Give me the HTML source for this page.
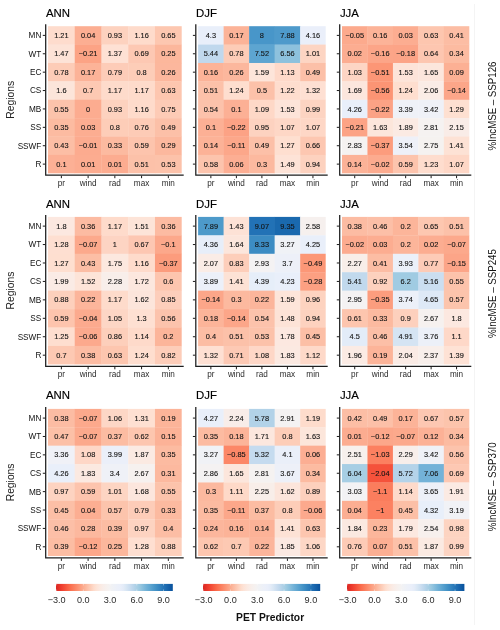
<!DOCTYPE html>
<html lang="en">
<head>
<meta charset="utf-8">
<title>%IncMSE heatmaps</title>
<style>
html,body{margin:0;padding:0;background:#fff;}
body{width:500px;height:630px;overflow:hidden;}
svg{display:block;}
text{font-family:"Liberation Sans", Arial, Helvetica, sans-serif;}
.v{font-size:7.4px;fill:#141414;stroke:#141414;stroke-width:0.12px;text-anchor:middle;}
.xt{font-size:8.2px;fill:#2c2c2c;text-anchor:middle;}
.yt{font-size:8.2px;fill:#111;text-anchor:end;}
.ti{font-size:11.4px;fill:#000;stroke:#000;stroke-width:0.15px;}
.yl{font-size:10.3px;fill:#222;text-anchor:middle;}
.rl{font-size:10.9px;fill:#111;text-anchor:middle;}
.lg{font-size:9.1px;fill:#2a2a2a;text-anchor:middle;}
.xl{font-size:10.3px;font-weight:bold;fill:#111;text-anchor:middle;}
.ax{stroke:#1e1e1e;stroke-width:1.25;fill:none;stroke-linecap:butt;stroke-linejoin:miter;}
.tk{stroke:#1a1a1a;stroke-width:1;fill:none;}
</style>
</head>
<body>
<svg width="500" height="630" viewBox="0 0 500 630">
<rect x="0" y="0" width="500" height="630" fill="#ffffff"/>
<line x1="474.5" y1="4" x2="474.5" y2="625" stroke="#f4f4f4" stroke-width="1"/>
<defs><linearGradient id="cb" x1="0" y1="0" x2="1" y2="0">
<stop offset="0.0000" stop-color="#D92623"/>
<stop offset="0.0250" stop-color="#E63228"/>
<stop offset="0.0500" stop-color="#F03F2F"/>
<stop offset="0.0750" stop-color="#F44F39"/>
<stop offset="0.1000" stop-color="#F86043"/>
<stop offset="0.1250" stop-color="#FB6F4F"/>
<stop offset="0.1500" stop-color="#FB7D5D"/>
<stop offset="0.1750" stop-color="#FC8B6B"/>
<stop offset="0.2000" stop-color="#FC997A"/>
<stop offset="0.2250" stop-color="#FCA78A"/>
<stop offset="0.2500" stop-color="#FCB59A"/>
<stop offset="0.2750" stop-color="#FCC2AB"/>
<stop offset="0.3000" stop-color="#FDCFBB"/>
<stop offset="0.3250" stop-color="#FEDCCC"/>
<stop offset="0.3500" stop-color="#FDE4D8"/>
<stop offset="0.3750" stop-color="#FBE9E1"/>
<stop offset="0.4000" stop-color="#F9EDE8"/>
<stop offset="0.4250" stop-color="#F7F0ED"/>
<stop offset="0.4500" stop-color="#F5F2F1"/>
<stop offset="0.4750" stop-color="#F1F2F5"/>
<stop offset="0.5000" stop-color="#EEF1F7"/>
<stop offset="0.5250" stop-color="#ECF0F9"/>
<stop offset="0.5500" stop-color="#EAEFFA"/>
<stop offset="0.5750" stop-color="#E4ECF8"/>
<stop offset="0.6000" stop-color="#D9E7F4"/>
<stop offset="0.6250" stop-color="#CDDFF1"/>
<stop offset="0.6500" stop-color="#C0D8ED"/>
<stop offset="0.6750" stop-color="#B2D2E8"/>
<stop offset="0.7000" stop-color="#A4CDE3"/>
<stop offset="0.7250" stop-color="#94C5DF"/>
<stop offset="0.7500" stop-color="#82BBDB"/>
<stop offset="0.7750" stop-color="#71B1D7"/>
<stop offset="0.8000" stop-color="#62A8D2"/>
<stop offset="0.8250" stop-color="#539ECD"/>
<stop offset="0.8500" stop-color="#4594C7"/>
<stop offset="0.8750" stop-color="#3989C2"/>
<stop offset="0.9000" stop-color="#2E7EBC"/>
<stop offset="0.9250" stop-color="#2373B6"/>
<stop offset="0.9500" stop-color="#1A67AE"/>
<stop offset="0.9750" stop-color="#115CA5"/>
<stop offset="1.0000" stop-color="#08519C"/>
</linearGradient></defs>
<g>
<text class="ti" x="45.9" y="16.7">ANN</text>
<rect x="48.00" y="26.20" width="27.04" height="18.69" fill="#FEDCCD"/>
<rect x="74.74" y="26.20" width="27.04" height="18.69" fill="#FCAE92"/>
<rect x="101.48" y="26.20" width="27.04" height="18.69" fill="#FDD2BF"/>
<rect x="128.22" y="26.20" width="27.04" height="18.69" fill="#FEDBCB"/>
<rect x="154.96" y="26.20" width="26.74" height="18.69" fill="#FDC7B0"/>
<rect x="48.00" y="44.59" width="27.04" height="18.69" fill="#FDE3D7"/>
<rect x="74.74" y="44.59" width="27.04" height="18.69" fill="#FCA385"/>
<rect x="101.48" y="44.59" width="27.04" height="18.69" fill="#FEE1D4"/>
<rect x="128.22" y="44.59" width="27.04" height="18.69" fill="#FDC8B3"/>
<rect x="154.96" y="44.59" width="26.74" height="18.69" fill="#FCB79C"/>
<rect x="48.00" y="62.98" width="27.04" height="18.69" fill="#FDCCB7"/>
<rect x="74.74" y="62.98" width="27.04" height="18.69" fill="#FCB398"/>
<rect x="101.48" y="62.98" width="27.04" height="18.69" fill="#FDCCB8"/>
<rect x="128.22" y="62.98" width="27.04" height="18.69" fill="#FDCDB8"/>
<rect x="154.96" y="62.98" width="26.74" height="18.69" fill="#FCB79D"/>
<rect x="48.00" y="81.36" width="27.04" height="18.69" fill="#FCE5DA"/>
<rect x="74.74" y="81.36" width="27.04" height="18.69" fill="#FDC9B3"/>
<rect x="101.48" y="81.36" width="27.04" height="18.69" fill="#FEDBCB"/>
<rect x="128.22" y="81.36" width="27.04" height="18.69" fill="#FEDBCB"/>
<rect x="154.96" y="81.36" width="26.74" height="18.69" fill="#FDC6AF"/>
<rect x="48.00" y="99.75" width="27.04" height="18.69" fill="#FCC3AB"/>
<rect x="74.74" y="99.75" width="27.04" height="18.69" fill="#FCAC90"/>
<rect x="101.48" y="99.75" width="27.04" height="18.69" fill="#FDD2BF"/>
<rect x="128.22" y="99.75" width="27.04" height="18.69" fill="#FEDBCB"/>
<rect x="154.96" y="99.75" width="26.74" height="18.69" fill="#FDCBB6"/>
<rect x="48.00" y="118.14" width="27.04" height="18.69" fill="#FCBBA1"/>
<rect x="74.74" y="118.14" width="27.04" height="18.69" fill="#FCAD91"/>
<rect x="101.48" y="118.14" width="27.04" height="18.69" fill="#FDCDB8"/>
<rect x="128.22" y="118.14" width="27.04" height="18.69" fill="#FDCBB6"/>
<rect x="154.96" y="118.14" width="26.74" height="18.69" fill="#FCC0A8"/>
<rect x="48.00" y="136.53" width="27.04" height="18.69" fill="#FCBEA5"/>
<rect x="74.74" y="136.53" width="27.04" height="18.69" fill="#FCAB8F"/>
<rect x="101.48" y="136.53" width="27.04" height="18.69" fill="#FCBAA0"/>
<rect x="128.22" y="136.53" width="27.04" height="18.69" fill="#FDC4AD"/>
<rect x="154.96" y="136.53" width="26.74" height="18.69" fill="#FCB89E"/>
<rect x="48.00" y="154.91" width="27.04" height="18.39" fill="#FCB095"/>
<rect x="74.74" y="154.91" width="27.04" height="18.39" fill="#FCAC90"/>
<rect x="101.48" y="154.91" width="27.04" height="18.39" fill="#FCAC90"/>
<rect x="128.22" y="154.91" width="27.04" height="18.39" fill="#FCC1A9"/>
<rect x="154.96" y="154.91" width="26.74" height="18.39" fill="#FCC2AA"/>
<text class="v" x="61.37" y="37.99">1.21</text>
<text class="v" x="88.11" y="37.99">0.04</text>
<text class="v" x="114.85" y="37.99">0.93</text>
<text class="v" x="141.59" y="37.99">1.16</text>
<text class="v" x="168.33" y="37.99">0.65</text>
<text class="v" x="61.37" y="56.38">1.47</text>
<text class="v" x="88.11" y="56.38">−0.21</text>
<text class="v" x="114.85" y="56.38">1.37</text>
<text class="v" x="141.59" y="56.38">0.69</text>
<text class="v" x="168.33" y="56.38">0.25</text>
<text class="v" x="61.37" y="74.77">0.78</text>
<text class="v" x="88.11" y="74.77">0.17</text>
<text class="v" x="114.85" y="74.77">0.79</text>
<text class="v" x="141.59" y="74.77">0.8</text>
<text class="v" x="168.33" y="74.77">0.26</text>
<text class="v" x="61.37" y="93.16">1.6</text>
<text class="v" x="88.11" y="93.16">0.7</text>
<text class="v" x="114.85" y="93.16">1.17</text>
<text class="v" x="141.59" y="93.16">1.17</text>
<text class="v" x="168.33" y="93.16">0.63</text>
<text class="v" x="61.37" y="111.54">0.55</text>
<text class="v" x="88.11" y="111.54">0</text>
<text class="v" x="114.85" y="111.54">0.93</text>
<text class="v" x="141.59" y="111.54">1.16</text>
<text class="v" x="168.33" y="111.54">0.75</text>
<text class="v" x="61.37" y="129.93">0.35</text>
<text class="v" x="88.11" y="129.93">0.03</text>
<text class="v" x="114.85" y="129.93">0.8</text>
<text class="v" x="141.59" y="129.93">0.76</text>
<text class="v" x="168.33" y="129.93">0.49</text>
<text class="v" x="61.37" y="148.32">0.43</text>
<text class="v" x="88.11" y="148.32">−0.01</text>
<text class="v" x="114.85" y="148.32">0.33</text>
<text class="v" x="141.59" y="148.32">0.59</text>
<text class="v" x="168.33" y="148.32">0.29</text>
<text class="v" x="61.37" y="166.71">0.1</text>
<text class="v" x="88.11" y="166.71">0.01</text>
<text class="v" x="114.85" y="166.71">0.01</text>
<text class="v" x="141.59" y="166.71">0.51</text>
<text class="v" x="168.33" y="166.71">0.53</text>
<path class="ax" d="M45.70 24.20 V175.20 H183.70"/>
<line class="tk" x1="42.80" y1="35.39" x2="45.20" y2="35.39"/>
<text class="yt" x="41.30" y="38.29">MN</text>
<line class="tk" x1="42.80" y1="53.78" x2="45.20" y2="53.78"/>
<text class="yt" x="41.30" y="56.68">WT</text>
<line class="tk" x1="42.80" y1="72.17" x2="45.20" y2="72.17"/>
<text class="yt" x="41.30" y="75.07">EC</text>
<line class="tk" x1="42.80" y1="90.56" x2="45.20" y2="90.56"/>
<text class="yt" x="41.30" y="93.46">CS</text>
<line class="tk" x1="42.80" y1="108.94" x2="45.20" y2="108.94"/>
<text class="yt" x="41.30" y="111.84">MB</text>
<line class="tk" x1="42.80" y1="127.33" x2="45.20" y2="127.33"/>
<text class="yt" x="41.30" y="130.23">SS</text>
<line class="tk" x1="42.80" y1="145.72" x2="45.20" y2="145.72"/>
<text class="yt" x="41.30" y="148.62">SSWF</text>
<line class="tk" x1="42.80" y1="164.11" x2="45.20" y2="164.11"/>
<text class="yt" x="41.30" y="167.01">R</text>
<line class="tk" x1="61.37" y1="175.70" x2="61.37" y2="178.20"/>
<text class="xt" x="61.37" y="185.90">pr</text>
<line class="tk" x1="88.11" y1="175.70" x2="88.11" y2="178.20"/>
<text class="xt" x="88.11" y="185.90">wind</text>
<line class="tk" x1="114.85" y1="175.70" x2="114.85" y2="178.20"/>
<text class="xt" x="114.85" y="185.90">rad</text>
<line class="tk" x1="141.59" y1="175.70" x2="141.59" y2="178.20"/>
<text class="xt" x="141.59" y="185.90">max</text>
<line class="tk" x1="168.33" y1="175.70" x2="168.33" y2="178.20"/>
<text class="xt" x="168.33" y="185.90">min</text>
</g>
<g>
<text class="ti" x="196.0" y="16.7">DJF</text>
<rect x="198.10" y="26.20" width="25.82" height="18.69" fill="#E9EFFA"/>
<rect x="223.62" y="26.20" width="25.82" height="18.69" fill="#FCB398"/>
<rect x="249.14" y="26.20" width="25.82" height="18.69" fill="#4896C9"/>
<rect x="274.66" y="26.20" width="25.82" height="18.69" fill="#4E9ACB"/>
<rect x="300.18" y="26.20" width="25.52" height="18.69" fill="#EAEFFA"/>
<rect x="198.10" y="44.59" width="25.82" height="18.69" fill="#C0D8ED"/>
<rect x="223.62" y="44.59" width="25.82" height="18.69" fill="#FDCCB7"/>
<rect x="249.14" y="44.59" width="25.82" height="18.69" fill="#5DA5D1"/>
<rect x="274.66" y="44.59" width="25.82" height="18.69" fill="#8DC1DD"/>
<rect x="300.18" y="44.59" width="25.52" height="18.69" fill="#FDD5C3"/>
<rect x="198.10" y="62.98" width="25.82" height="18.69" fill="#FCB398"/>
<rect x="223.62" y="62.98" width="25.82" height="18.69" fill="#FCB79D"/>
<rect x="249.14" y="62.98" width="25.82" height="18.69" fill="#FDE5DA"/>
<rect x="274.66" y="62.98" width="25.82" height="18.69" fill="#FED9C9"/>
<rect x="300.18" y="62.98" width="25.52" height="18.69" fill="#FCC0A8"/>
<rect x="198.10" y="81.36" width="25.82" height="18.69" fill="#FCC1A9"/>
<rect x="223.62" y="81.36" width="25.82" height="18.69" fill="#FEDECF"/>
<rect x="249.14" y="81.36" width="25.82" height="18.69" fill="#FCC1A9"/>
<rect x="274.66" y="81.36" width="25.82" height="18.69" fill="#FEDDCE"/>
<rect x="300.18" y="81.36" width="25.52" height="18.69" fill="#FEE0D3"/>
<rect x="198.10" y="99.75" width="25.82" height="18.69" fill="#FCC2AB"/>
<rect x="223.62" y="99.75" width="25.82" height="18.69" fill="#FCB095"/>
<rect x="249.14" y="99.75" width="25.82" height="18.69" fill="#FED8C7"/>
<rect x="274.66" y="99.75" width="25.82" height="18.69" fill="#FDE4D9"/>
<rect x="300.18" y="99.75" width="25.52" height="18.69" fill="#FDD4C2"/>
<rect x="198.10" y="118.14" width="25.82" height="18.69" fill="#FCB095"/>
<rect x="223.62" y="118.14" width="25.82" height="18.69" fill="#FCA285"/>
<rect x="249.14" y="118.14" width="25.82" height="18.69" fill="#FDD2C0"/>
<rect x="274.66" y="118.14" width="25.82" height="18.69" fill="#FED7C6"/>
<rect x="300.18" y="118.14" width="25.52" height="18.69" fill="#FED7C6"/>
<rect x="198.10" y="136.53" width="25.82" height="18.69" fill="#FCB297"/>
<rect x="223.62" y="136.53" width="25.82" height="18.69" fill="#FCA78A"/>
<rect x="249.14" y="136.53" width="25.82" height="18.69" fill="#FCC0A8"/>
<rect x="274.66" y="136.53" width="25.82" height="18.69" fill="#FEDFD0"/>
<rect x="300.18" y="136.53" width="25.52" height="18.69" fill="#FDC7B1"/>
<rect x="198.10" y="154.91" width="25.82" height="18.39" fill="#FCC4AD"/>
<rect x="223.62" y="154.91" width="25.82" height="18.39" fill="#FCAE93"/>
<rect x="249.14" y="154.91" width="25.82" height="18.39" fill="#FCB99F"/>
<rect x="274.66" y="154.91" width="25.82" height="18.39" fill="#FDE3D7"/>
<rect x="300.18" y="154.91" width="25.52" height="18.39" fill="#FDD2BF"/>
<text class="v" x="210.86" y="37.99">4.3</text>
<text class="v" x="236.38" y="37.99">0.17</text>
<text class="v" x="261.90" y="37.99">8</text>
<text class="v" x="287.42" y="37.99">7.88</text>
<text class="v" x="312.94" y="37.99">4.16</text>
<text class="v" x="210.86" y="56.38">5.44</text>
<text class="v" x="236.38" y="56.38">0.78</text>
<text class="v" x="261.90" y="56.38">7.52</text>
<text class="v" x="287.42" y="56.38">6.56</text>
<text class="v" x="312.94" y="56.38">1.01</text>
<text class="v" x="210.86" y="74.77">0.16</text>
<text class="v" x="236.38" y="74.77">0.26</text>
<text class="v" x="261.90" y="74.77">1.59</text>
<text class="v" x="287.42" y="74.77">1.13</text>
<text class="v" x="312.94" y="74.77">0.49</text>
<text class="v" x="210.86" y="93.16">0.51</text>
<text class="v" x="236.38" y="93.16">1.24</text>
<text class="v" x="261.90" y="93.16">0.5</text>
<text class="v" x="287.42" y="93.16">1.22</text>
<text class="v" x="312.94" y="93.16">1.32</text>
<text class="v" x="210.86" y="111.54">0.54</text>
<text class="v" x="236.38" y="111.54">0.1</text>
<text class="v" x="261.90" y="111.54">1.09</text>
<text class="v" x="287.42" y="111.54">1.53</text>
<text class="v" x="312.94" y="111.54">0.99</text>
<text class="v" x="210.86" y="129.93">0.1</text>
<text class="v" x="236.38" y="129.93">−0.22</text>
<text class="v" x="261.90" y="129.93">0.95</text>
<text class="v" x="287.42" y="129.93">1.07</text>
<text class="v" x="312.94" y="129.93">1.07</text>
<text class="v" x="210.86" y="148.32">0.14</text>
<text class="v" x="236.38" y="148.32">−0.11</text>
<text class="v" x="261.90" y="148.32">0.49</text>
<text class="v" x="287.42" y="148.32">1.27</text>
<text class="v" x="312.94" y="148.32">0.66</text>
<text class="v" x="210.86" y="166.71">0.58</text>
<text class="v" x="236.38" y="166.71">0.06</text>
<text class="v" x="261.90" y="166.71">0.3</text>
<text class="v" x="287.42" y="166.71">1.49</text>
<text class="v" x="312.94" y="166.71">0.94</text>
<path class="ax" d="M195.80 24.20 V175.20 H327.70"/>
<line class="tk" x1="192.90" y1="35.39" x2="195.30" y2="35.39"/>
<line class="tk" x1="192.90" y1="53.78" x2="195.30" y2="53.78"/>
<line class="tk" x1="192.90" y1="72.17" x2="195.30" y2="72.17"/>
<line class="tk" x1="192.90" y1="90.56" x2="195.30" y2="90.56"/>
<line class="tk" x1="192.90" y1="108.94" x2="195.30" y2="108.94"/>
<line class="tk" x1="192.90" y1="127.33" x2="195.30" y2="127.33"/>
<line class="tk" x1="192.90" y1="145.72" x2="195.30" y2="145.72"/>
<line class="tk" x1="192.90" y1="164.11" x2="195.30" y2="164.11"/>
<line class="tk" x1="210.86" y1="175.70" x2="210.86" y2="178.20"/>
<text class="xt" x="210.86" y="185.90">pr</text>
<line class="tk" x1="236.38" y1="175.70" x2="236.38" y2="178.20"/>
<text class="xt" x="236.38" y="185.90">wind</text>
<line class="tk" x1="261.90" y1="175.70" x2="261.90" y2="178.20"/>
<text class="xt" x="261.90" y="185.90">rad</text>
<line class="tk" x1="287.42" y1="175.70" x2="287.42" y2="178.20"/>
<text class="xt" x="287.42" y="185.90">max</text>
<line class="tk" x1="312.94" y1="175.70" x2="312.94" y2="178.20"/>
<text class="xt" x="312.94" y="185.90">min</text>
</g>
<g>
<text class="ti" x="339.9" y="16.7">JJA</text>
<rect x="342.00" y="26.20" width="25.76" height="18.69" fill="#FCAA8D"/>
<rect x="367.46" y="26.20" width="25.76" height="18.69" fill="#FCB398"/>
<rect x="392.92" y="26.20" width="25.76" height="18.69" fill="#FCAD91"/>
<rect x="418.38" y="26.20" width="25.76" height="18.69" fill="#FDC6AF"/>
<rect x="443.84" y="26.20" width="25.46" height="18.69" fill="#FCBDA4"/>
<rect x="342.00" y="44.59" width="25.76" height="18.69" fill="#FCAD91"/>
<rect x="367.46" y="44.59" width="25.76" height="18.69" fill="#FCA588"/>
<rect x="392.92" y="44.59" width="25.76" height="18.69" fill="#FCA487"/>
<rect x="418.38" y="44.59" width="25.76" height="18.69" fill="#FDC6B0"/>
<rect x="443.84" y="44.59" width="25.46" height="18.69" fill="#FCBBA1"/>
<rect x="342.00" y="62.98" width="25.76" height="18.69" fill="#FDD5C4"/>
<rect x="367.46" y="62.98" width="25.76" height="18.69" fill="#FC9676"/>
<rect x="392.92" y="62.98" width="25.76" height="18.69" fill="#FDE4D9"/>
<rect x="418.38" y="62.98" width="25.76" height="18.69" fill="#FCE6DC"/>
<rect x="443.84" y="62.98" width="25.46" height="18.69" fill="#FCB094"/>
<rect x="342.00" y="81.36" width="25.76" height="18.69" fill="#FCE6DD"/>
<rect x="367.46" y="81.36" width="25.76" height="18.69" fill="#FC9474"/>
<rect x="392.92" y="81.36" width="25.76" height="18.69" fill="#FEDECF"/>
<rect x="418.38" y="81.36" width="25.76" height="18.69" fill="#FAECE6"/>
<rect x="443.84" y="81.36" width="25.46" height="18.69" fill="#FCA689"/>
<rect x="342.00" y="99.75" width="25.76" height="18.69" fill="#E9EFFA"/>
<rect x="367.46" y="99.75" width="25.76" height="18.69" fill="#FCA285"/>
<rect x="392.92" y="99.75" width="25.76" height="18.69" fill="#EFF1F7"/>
<rect x="418.38" y="99.75" width="25.76" height="18.69" fill="#EFF1F7"/>
<rect x="443.84" y="99.75" width="25.46" height="18.69" fill="#FEE0D1"/>
<rect x="342.00" y="118.14" width="25.76" height="18.69" fill="#FCA385"/>
<rect x="367.46" y="118.14" width="25.76" height="18.69" fill="#FCE6DB"/>
<rect x="392.92" y="118.14" width="25.76" height="18.69" fill="#FBEAE3"/>
<rect x="418.38" y="118.14" width="25.76" height="18.69" fill="#F5F2F1"/>
<rect x="443.84" y="118.14" width="25.46" height="18.69" fill="#F9ECE7"/>
<rect x="342.00" y="136.53" width="25.76" height="18.69" fill="#F5F2F1"/>
<rect x="367.46" y="136.53" width="25.76" height="18.69" fill="#FC9C7D"/>
<rect x="392.92" y="136.53" width="25.76" height="18.69" fill="#EEF0F8"/>
<rect x="418.38" y="136.53" width="25.76" height="18.69" fill="#F5F2F0"/>
<rect x="443.84" y="136.53" width="25.46" height="18.69" fill="#FDE2D5"/>
<rect x="342.00" y="154.91" width="25.76" height="18.39" fill="#FCB297"/>
<rect x="367.46" y="154.91" width="25.76" height="18.39" fill="#FCAB8F"/>
<rect x="392.92" y="154.91" width="25.76" height="18.39" fill="#FDC4AD"/>
<rect x="418.38" y="154.91" width="25.76" height="18.39" fill="#FEDDCE"/>
<rect x="443.84" y="154.91" width="25.46" height="18.39" fill="#FED7C6"/>
<text class="v" x="354.73" y="37.99">−0.05</text>
<text class="v" x="380.19" y="37.99">0.16</text>
<text class="v" x="405.65" y="37.99">0.03</text>
<text class="v" x="431.11" y="37.99">0.63</text>
<text class="v" x="456.57" y="37.99">0.41</text>
<text class="v" x="354.73" y="56.38">0.02</text>
<text class="v" x="380.19" y="56.38">−0.16</text>
<text class="v" x="405.65" y="56.38">−0.18</text>
<text class="v" x="431.11" y="56.38">0.64</text>
<text class="v" x="456.57" y="56.38">0.34</text>
<text class="v" x="354.73" y="74.77">1.03</text>
<text class="v" x="380.19" y="74.77">−0.51</text>
<text class="v" x="405.65" y="74.77">1.53</text>
<text class="v" x="431.11" y="74.77">1.65</text>
<text class="v" x="456.57" y="74.77">0.09</text>
<text class="v" x="354.73" y="93.16">1.69</text>
<text class="v" x="380.19" y="93.16">−0.56</text>
<text class="v" x="405.65" y="93.16">1.24</text>
<text class="v" x="431.11" y="93.16">2.06</text>
<text class="v" x="456.57" y="93.16">−0.14</text>
<text class="v" x="354.73" y="111.54">4.26</text>
<text class="v" x="380.19" y="111.54">−0.22</text>
<text class="v" x="405.65" y="111.54">3.39</text>
<text class="v" x="431.11" y="111.54">3.42</text>
<text class="v" x="456.57" y="111.54">1.29</text>
<text class="v" x="354.73" y="129.93">−0.21</text>
<text class="v" x="380.19" y="129.93">1.63</text>
<text class="v" x="405.65" y="129.93">1.89</text>
<text class="v" x="431.11" y="129.93">2.81</text>
<text class="v" x="456.57" y="129.93">2.15</text>
<text class="v" x="354.73" y="148.32">2.83</text>
<text class="v" x="380.19" y="148.32">−0.37</text>
<text class="v" x="405.65" y="148.32">3.54</text>
<text class="v" x="431.11" y="148.32">2.75</text>
<text class="v" x="456.57" y="148.32">1.41</text>
<text class="v" x="354.73" y="166.71">0.14</text>
<text class="v" x="380.19" y="166.71">−0.02</text>
<text class="v" x="405.65" y="166.71">0.59</text>
<text class="v" x="431.11" y="166.71">1.23</text>
<text class="v" x="456.57" y="166.71">1.07</text>
<path class="ax" d="M339.70 24.20 V175.20 H471.30"/>
<line class="tk" x1="336.80" y1="35.39" x2="339.20" y2="35.39"/>
<line class="tk" x1="336.80" y1="53.78" x2="339.20" y2="53.78"/>
<line class="tk" x1="336.80" y1="72.17" x2="339.20" y2="72.17"/>
<line class="tk" x1="336.80" y1="90.56" x2="339.20" y2="90.56"/>
<line class="tk" x1="336.80" y1="108.94" x2="339.20" y2="108.94"/>
<line class="tk" x1="336.80" y1="127.33" x2="339.20" y2="127.33"/>
<line class="tk" x1="336.80" y1="145.72" x2="339.20" y2="145.72"/>
<line class="tk" x1="336.80" y1="164.11" x2="339.20" y2="164.11"/>
<line class="tk" x1="354.73" y1="175.70" x2="354.73" y2="178.20"/>
<text class="xt" x="354.73" y="185.90">pr</text>
<line class="tk" x1="380.19" y1="175.70" x2="380.19" y2="178.20"/>
<text class="xt" x="380.19" y="185.90">wind</text>
<line class="tk" x1="405.65" y1="175.70" x2="405.65" y2="178.20"/>
<text class="xt" x="405.65" y="185.90">rad</text>
<line class="tk" x1="431.11" y1="175.70" x2="431.11" y2="178.20"/>
<text class="xt" x="431.11" y="185.90">max</text>
<line class="tk" x1="456.57" y1="175.70" x2="456.57" y2="178.20"/>
<text class="xt" x="456.57" y="185.90">min</text>
</g>
<text class="yl" transform="translate(13.7 99.8) rotate(-90)">Regions</text>
<text class="rl" transform="translate(495.5 106.0) rotate(-90) scale(0.89 1)">%IncMSE – SSP126</text>
<g>
<text class="ti" x="45.9" y="207.5">ANN</text>
<rect x="48.00" y="216.90" width="27.04" height="18.74" fill="#FCE8E0"/>
<rect x="74.74" y="216.90" width="27.04" height="18.74" fill="#FCBBA2"/>
<rect x="101.48" y="216.90" width="27.04" height="18.74" fill="#FEDBCB"/>
<rect x="128.22" y="216.90" width="27.04" height="18.74" fill="#FDE4D8"/>
<rect x="154.96" y="216.90" width="26.74" height="18.74" fill="#FCBBA2"/>
<rect x="48.00" y="235.34" width="27.04" height="18.74" fill="#FEDFD1"/>
<rect x="74.74" y="235.34" width="27.04" height="18.74" fill="#FCA98C"/>
<rect x="101.48" y="235.34" width="27.04" height="18.74" fill="#FDD4C3"/>
<rect x="128.22" y="235.34" width="27.04" height="18.74" fill="#FDC7B2"/>
<rect x="154.96" y="235.34" width="26.74" height="18.74" fill="#FCA88B"/>
<rect x="48.00" y="253.78" width="27.04" height="18.74" fill="#FEDFD0"/>
<rect x="74.74" y="253.78" width="27.04" height="18.74" fill="#FCBEA5"/>
<rect x="101.48" y="253.78" width="27.04" height="18.74" fill="#FCE8DF"/>
<rect x="128.22" y="253.78" width="27.04" height="18.74" fill="#FEDBCB"/>
<rect x="154.96" y="253.78" width="26.74" height="18.74" fill="#FC9C7D"/>
<rect x="48.00" y="272.21" width="27.04" height="18.74" fill="#FAEBE5"/>
<rect x="74.74" y="272.21" width="27.04" height="18.74" fill="#FDE4D8"/>
<rect x="101.48" y="272.21" width="27.04" height="18.74" fill="#F8EEEA"/>
<rect x="128.22" y="272.21" width="27.04" height="18.74" fill="#FCE7DE"/>
<rect x="154.96" y="272.21" width="26.74" height="18.74" fill="#FDC5AE"/>
<rect x="48.00" y="290.65" width="27.04" height="18.74" fill="#FDD0BC"/>
<rect x="74.74" y="290.65" width="27.04" height="18.74" fill="#FCB59B"/>
<rect x="101.48" y="290.65" width="27.04" height="18.74" fill="#FEDBCB"/>
<rect x="128.22" y="290.65" width="27.04" height="18.74" fill="#FCE5DB"/>
<rect x="154.96" y="290.65" width="26.74" height="18.74" fill="#FDCEBB"/>
<rect x="48.00" y="309.09" width="27.04" height="18.74" fill="#FDC4AD"/>
<rect x="74.74" y="309.09" width="27.04" height="18.74" fill="#FCAA8E"/>
<rect x="101.48" y="309.09" width="27.04" height="18.74" fill="#FDD6C5"/>
<rect x="128.22" y="309.09" width="27.04" height="18.74" fill="#FEE0D2"/>
<rect x="154.96" y="309.09" width="26.74" height="18.74" fill="#FCC3AC"/>
<rect x="48.00" y="327.52" width="27.04" height="18.74" fill="#FEDECF"/>
<rect x="74.74" y="327.52" width="27.04" height="18.74" fill="#FCA98D"/>
<rect x="101.48" y="327.52" width="27.04" height="18.74" fill="#FDCFBB"/>
<rect x="128.22" y="327.52" width="27.04" height="18.74" fill="#FEDACA"/>
<rect x="154.96" y="327.52" width="26.74" height="18.74" fill="#FCB59A"/>
<rect x="48.00" y="345.96" width="27.04" height="18.44" fill="#FDC9B3"/>
<rect x="74.74" y="345.96" width="27.04" height="18.44" fill="#FCBCA3"/>
<rect x="101.48" y="345.96" width="27.04" height="18.44" fill="#FDC6AF"/>
<rect x="128.22" y="345.96" width="27.04" height="18.44" fill="#FEDECF"/>
<rect x="154.96" y="345.96" width="26.74" height="18.44" fill="#FDCDB9"/>
<text class="v" x="61.37" y="228.72">1.8</text>
<text class="v" x="88.11" y="228.72">0.36</text>
<text class="v" x="114.85" y="228.72">1.17</text>
<text class="v" x="141.59" y="228.72">1.51</text>
<text class="v" x="168.33" y="228.72">0.36</text>
<text class="v" x="61.37" y="247.16">1.28</text>
<text class="v" x="88.11" y="247.16">−0.07</text>
<text class="v" x="114.85" y="247.16">1</text>
<text class="v" x="141.59" y="247.16">0.67</text>
<text class="v" x="168.33" y="247.16">−0.1</text>
<text class="v" x="61.37" y="265.59">1.27</text>
<text class="v" x="88.11" y="265.59">0.43</text>
<text class="v" x="114.85" y="265.59">1.75</text>
<text class="v" x="141.59" y="265.59">1.16</text>
<text class="v" x="168.33" y="265.59">−0.37</text>
<text class="v" x="61.37" y="284.03">1.99</text>
<text class="v" x="88.11" y="284.03">1.52</text>
<text class="v" x="114.85" y="284.03">2.28</text>
<text class="v" x="141.59" y="284.03">1.72</text>
<text class="v" x="168.33" y="284.03">0.6</text>
<text class="v" x="61.37" y="302.47">0.88</text>
<text class="v" x="88.11" y="302.47">0.22</text>
<text class="v" x="114.85" y="302.47">1.17</text>
<text class="v" x="141.59" y="302.47">1.62</text>
<text class="v" x="168.33" y="302.47">0.85</text>
<text class="v" x="61.37" y="320.91">0.59</text>
<text class="v" x="88.11" y="320.91">−0.04</text>
<text class="v" x="114.85" y="320.91">1.05</text>
<text class="v" x="141.59" y="320.91">1.3</text>
<text class="v" x="168.33" y="320.91">0.56</text>
<text class="v" x="61.37" y="339.34">1.25</text>
<text class="v" x="88.11" y="339.34">−0.06</text>
<text class="v" x="114.85" y="339.34">0.86</text>
<text class="v" x="141.59" y="339.34">1.14</text>
<text class="v" x="168.33" y="339.34">0.2</text>
<text class="v" x="61.37" y="357.78">0.7</text>
<text class="v" x="88.11" y="357.78">0.38</text>
<text class="v" x="114.85" y="357.78">0.63</text>
<text class="v" x="141.59" y="357.78">1.24</text>
<text class="v" x="168.33" y="357.78">0.82</text>
<path class="ax" d="M45.70 214.90 V366.30 H183.70"/>
<line class="tk" x1="42.80" y1="226.12" x2="45.20" y2="226.12"/>
<text class="yt" x="41.30" y="229.02">MN</text>
<line class="tk" x1="42.80" y1="244.56" x2="45.20" y2="244.56"/>
<text class="yt" x="41.30" y="247.46">WT</text>
<line class="tk" x1="42.80" y1="262.99" x2="45.20" y2="262.99"/>
<text class="yt" x="41.30" y="265.89">EC</text>
<line class="tk" x1="42.80" y1="281.43" x2="45.20" y2="281.43"/>
<text class="yt" x="41.30" y="284.33">CS</text>
<line class="tk" x1="42.80" y1="299.87" x2="45.20" y2="299.87"/>
<text class="yt" x="41.30" y="302.77">MB</text>
<line class="tk" x1="42.80" y1="318.31" x2="45.20" y2="318.31"/>
<text class="yt" x="41.30" y="321.21">SS</text>
<line class="tk" x1="42.80" y1="336.74" x2="45.20" y2="336.74"/>
<text class="yt" x="41.30" y="339.64">SSWF</text>
<line class="tk" x1="42.80" y1="355.18" x2="45.20" y2="355.18"/>
<text class="yt" x="41.30" y="358.08">R</text>
<line class="tk" x1="61.37" y1="366.80" x2="61.37" y2="369.30"/>
<text class="xt" x="61.37" y="377.00">pr</text>
<line class="tk" x1="88.11" y1="366.80" x2="88.11" y2="369.30"/>
<text class="xt" x="88.11" y="377.00">wind</text>
<line class="tk" x1="114.85" y1="366.80" x2="114.85" y2="369.30"/>
<text class="xt" x="114.85" y="377.00">rad</text>
<line class="tk" x1="141.59" y1="366.80" x2="141.59" y2="369.30"/>
<text class="xt" x="141.59" y="377.00">max</text>
<line class="tk" x1="168.33" y1="366.80" x2="168.33" y2="369.30"/>
<text class="xt" x="168.33" y="377.00">min</text>
</g>
<g>
<text class="ti" x="196.0" y="207.5">DJF</text>
<rect x="198.10" y="216.90" width="25.82" height="18.74" fill="#4D9ACA"/>
<rect x="223.62" y="216.90" width="25.82" height="18.74" fill="#FDE2D6"/>
<rect x="249.14" y="216.90" width="25.82" height="18.74" fill="#2272B6"/>
<rect x="274.66" y="216.90" width="25.82" height="18.74" fill="#1A69AE"/>
<rect x="300.18" y="216.90" width="25.52" height="18.74" fill="#F6F0EE"/>
<rect x="198.10" y="235.34" width="25.82" height="18.74" fill="#E7EEF9"/>
<rect x="223.62" y="235.34" width="25.82" height="18.74" fill="#FCE6DC"/>
<rect x="249.14" y="235.34" width="25.82" height="18.74" fill="#3C8CC3"/>
<rect x="274.66" y="235.34" width="25.82" height="18.74" fill="#F0F2F6"/>
<rect x="300.18" y="235.34" width="25.52" height="18.74" fill="#E9EFFA"/>
<rect x="198.10" y="253.78" width="25.82" height="18.74" fill="#FAECE6"/>
<rect x="223.62" y="253.78" width="25.82" height="18.74" fill="#FDCEBA"/>
<rect x="249.14" y="253.78" width="25.82" height="18.74" fill="#F4F2F3"/>
<rect x="274.66" y="253.78" width="25.82" height="18.74" fill="#EDF0F8"/>
<rect x="300.18" y="253.78" width="25.52" height="18.74" fill="#FC9777"/>
<rect x="198.10" y="272.21" width="25.82" height="18.74" fill="#ECF0F9"/>
<rect x="223.62" y="272.21" width="25.82" height="18.74" fill="#FDE2D5"/>
<rect x="249.14" y="272.21" width="25.82" height="18.74" fill="#E6EEF9"/>
<rect x="274.66" y="272.21" width="25.82" height="18.74" fill="#E9EFFA"/>
<rect x="300.18" y="272.21" width="25.52" height="18.74" fill="#FCA082"/>
<rect x="198.10" y="290.65" width="25.82" height="18.74" fill="#FCA689"/>
<rect x="223.62" y="290.65" width="25.82" height="18.74" fill="#FCB99F"/>
<rect x="249.14" y="290.65" width="25.82" height="18.74" fill="#FCB59B"/>
<rect x="274.66" y="290.65" width="25.82" height="18.74" fill="#FDE5DA"/>
<rect x="300.18" y="290.65" width="25.52" height="18.74" fill="#FDD3C0"/>
<rect x="198.10" y="309.09" width="25.82" height="18.74" fill="#FCB499"/>
<rect x="223.62" y="309.09" width="25.82" height="18.74" fill="#FCA689"/>
<rect x="249.14" y="309.09" width="25.82" height="18.74" fill="#FCC2AB"/>
<rect x="274.66" y="309.09" width="25.82" height="18.74" fill="#FDE3D7"/>
<rect x="300.18" y="309.09" width="25.52" height="18.74" fill="#FDD2BF"/>
<rect x="198.10" y="327.52" width="25.82" height="18.74" fill="#FCBDA4"/>
<rect x="223.62" y="327.52" width="25.82" height="18.74" fill="#FCC1A9"/>
<rect x="249.14" y="327.52" width="25.82" height="18.74" fill="#FCC2AA"/>
<rect x="274.66" y="327.52" width="25.82" height="18.74" fill="#FCE8E0"/>
<rect x="300.18" y="327.52" width="25.52" height="18.74" fill="#FCBFA6"/>
<rect x="198.10" y="345.96" width="25.82" height="18.44" fill="#FEE0D3"/>
<rect x="223.62" y="345.96" width="25.82" height="18.44" fill="#FDC9B4"/>
<rect x="249.14" y="345.96" width="25.82" height="18.44" fill="#FED7C7"/>
<rect x="274.66" y="345.96" width="25.82" height="18.44" fill="#FBE9E1"/>
<rect x="300.18" y="345.96" width="25.52" height="18.44" fill="#FED9C9"/>
<text class="v" x="210.86" y="228.72">7.89</text>
<text class="v" x="236.38" y="228.72">1.43</text>
<text class="v" x="261.90" y="228.72">9.07</text>
<text class="v" x="287.42" y="228.72">9.35</text>
<text class="v" x="312.94" y="228.72">2.58</text>
<text class="v" x="210.86" y="247.16">4.36</text>
<text class="v" x="236.38" y="247.16">1.64</text>
<text class="v" x="261.90" y="247.16">8.33</text>
<text class="v" x="287.42" y="247.16">3.27</text>
<text class="v" x="312.94" y="247.16">4.25</text>
<text class="v" x="210.86" y="265.59">2.07</text>
<text class="v" x="236.38" y="265.59">0.83</text>
<text class="v" x="261.90" y="265.59">2.93</text>
<text class="v" x="287.42" y="265.59">3.7</text>
<text class="v" x="312.94" y="265.59">−0.49</text>
<text class="v" x="210.86" y="284.03">3.89</text>
<text class="v" x="236.38" y="284.03">1.41</text>
<text class="v" x="261.90" y="284.03">4.39</text>
<text class="v" x="287.42" y="284.03">4.23</text>
<text class="v" x="312.94" y="284.03">−0.28</text>
<text class="v" x="210.86" y="302.47">−0.14</text>
<text class="v" x="236.38" y="302.47">0.3</text>
<text class="v" x="261.90" y="302.47">0.22</text>
<text class="v" x="287.42" y="302.47">1.59</text>
<text class="v" x="312.94" y="302.47">0.96</text>
<text class="v" x="210.86" y="320.91">0.18</text>
<text class="v" x="236.38" y="320.91">−0.14</text>
<text class="v" x="261.90" y="320.91">0.54</text>
<text class="v" x="287.42" y="320.91">1.48</text>
<text class="v" x="312.94" y="320.91">0.94</text>
<text class="v" x="210.86" y="339.34">0.4</text>
<text class="v" x="236.38" y="339.34">0.51</text>
<text class="v" x="261.90" y="339.34">0.53</text>
<text class="v" x="287.42" y="339.34">1.78</text>
<text class="v" x="312.94" y="339.34">0.45</text>
<text class="v" x="210.86" y="357.78">1.32</text>
<text class="v" x="236.38" y="357.78">0.71</text>
<text class="v" x="261.90" y="357.78">1.08</text>
<text class="v" x="287.42" y="357.78">1.83</text>
<text class="v" x="312.94" y="357.78">1.12</text>
<path class="ax" d="M195.80 214.90 V366.30 H327.70"/>
<line class="tk" x1="192.90" y1="226.12" x2="195.30" y2="226.12"/>
<line class="tk" x1="192.90" y1="244.56" x2="195.30" y2="244.56"/>
<line class="tk" x1="192.90" y1="262.99" x2="195.30" y2="262.99"/>
<line class="tk" x1="192.90" y1="281.43" x2="195.30" y2="281.43"/>
<line class="tk" x1="192.90" y1="299.87" x2="195.30" y2="299.87"/>
<line class="tk" x1="192.90" y1="318.31" x2="195.30" y2="318.31"/>
<line class="tk" x1="192.90" y1="336.74" x2="195.30" y2="336.74"/>
<line class="tk" x1="192.90" y1="355.18" x2="195.30" y2="355.18"/>
<line class="tk" x1="210.86" y1="366.80" x2="210.86" y2="369.30"/>
<text class="xt" x="210.86" y="377.00">pr</text>
<line class="tk" x1="236.38" y1="366.80" x2="236.38" y2="369.30"/>
<text class="xt" x="236.38" y="377.00">wind</text>
<line class="tk" x1="261.90" y1="366.80" x2="261.90" y2="369.30"/>
<text class="xt" x="261.90" y="377.00">rad</text>
<line class="tk" x1="287.42" y1="366.80" x2="287.42" y2="369.30"/>
<text class="xt" x="287.42" y="377.00">max</text>
<line class="tk" x1="312.94" y1="366.80" x2="312.94" y2="369.30"/>
<text class="xt" x="312.94" y="377.00">min</text>
</g>
<g>
<text class="ti" x="339.9" y="207.5">JJA</text>
<rect x="342.00" y="216.90" width="25.76" height="18.74" fill="#FCBCA3"/>
<rect x="367.46" y="216.90" width="25.76" height="18.74" fill="#FCBFA7"/>
<rect x="392.92" y="216.90" width="25.76" height="18.74" fill="#FCB59A"/>
<rect x="418.38" y="216.90" width="25.76" height="18.74" fill="#FDC7B0"/>
<rect x="443.84" y="216.90" width="25.46" height="18.74" fill="#FCC1A9"/>
<rect x="342.00" y="235.34" width="25.76" height="18.74" fill="#FCAB8F"/>
<rect x="367.46" y="235.34" width="25.76" height="18.74" fill="#FCAD91"/>
<rect x="392.92" y="235.34" width="25.76" height="18.74" fill="#FCB59A"/>
<rect x="418.38" y="235.34" width="25.76" height="18.74" fill="#FCAD91"/>
<rect x="443.84" y="235.34" width="25.46" height="18.74" fill="#FCA98C"/>
<rect x="342.00" y="253.78" width="25.76" height="18.74" fill="#F8EEE9"/>
<rect x="367.46" y="253.78" width="25.76" height="18.74" fill="#FCBDA4"/>
<rect x="392.92" y="253.78" width="25.76" height="18.74" fill="#EBF0F9"/>
<rect x="418.38" y="253.78" width="25.76" height="18.74" fill="#FDCBB7"/>
<rect x="443.84" y="253.78" width="25.46" height="18.74" fill="#FCA588"/>
<rect x="342.00" y="272.21" width="25.76" height="18.74" fill="#C1D9ED"/>
<rect x="367.46" y="272.21" width="25.76" height="18.74" fill="#FDD1BE"/>
<rect x="392.92" y="272.21" width="25.76" height="18.74" fill="#A0CBE2"/>
<rect x="418.38" y="272.21" width="25.76" height="18.74" fill="#CBDEF0"/>
<rect x="443.84" y="272.21" width="25.46" height="18.74" fill="#FCC3AB"/>
<rect x="342.00" y="290.65" width="25.76" height="18.74" fill="#F4F2F3"/>
<rect x="367.46" y="290.65" width="25.76" height="18.74" fill="#FC9D7E"/>
<rect x="392.92" y="290.65" width="25.76" height="18.74" fill="#ECF0F8"/>
<rect x="418.38" y="290.65" width="25.76" height="18.74" fill="#DEE9F6"/>
<rect x="443.84" y="290.65" width="25.46" height="18.74" fill="#FCC4AC"/>
<rect x="342.00" y="309.09" width="25.76" height="18.74" fill="#FDC5AE"/>
<rect x="367.46" y="309.09" width="25.76" height="18.74" fill="#FCBAA0"/>
<rect x="392.92" y="309.09" width="25.76" height="18.74" fill="#FDD0BD"/>
<rect x="418.38" y="309.09" width="25.76" height="18.74" fill="#F6F1EF"/>
<rect x="443.84" y="309.09" width="25.46" height="18.74" fill="#FCE8E0"/>
<rect x="342.00" y="327.52" width="25.76" height="18.74" fill="#E3ECF8"/>
<rect x="367.46" y="327.52" width="25.76" height="18.74" fill="#FCBFA7"/>
<rect x="392.92" y="327.52" width="25.76" height="18.74" fill="#D5E4F3"/>
<rect x="418.38" y="327.52" width="25.76" height="18.74" fill="#ECF0F8"/>
<rect x="443.84" y="327.52" width="25.46" height="18.74" fill="#FED8C8"/>
<rect x="342.00" y="345.96" width="25.76" height="18.44" fill="#FBEBE4"/>
<rect x="367.46" y="345.96" width="25.76" height="18.44" fill="#FCB499"/>
<rect x="392.92" y="345.96" width="25.76" height="18.44" fill="#FAEBE5"/>
<rect x="418.38" y="345.96" width="25.76" height="18.44" fill="#F8EFEB"/>
<rect x="443.84" y="345.96" width="25.46" height="18.44" fill="#FEE2D5"/>
<text class="v" x="354.73" y="228.72">0.38</text>
<text class="v" x="380.19" y="228.72">0.46</text>
<text class="v" x="405.65" y="228.72">0.2</text>
<text class="v" x="431.11" y="228.72">0.65</text>
<text class="v" x="456.57" y="228.72">0.51</text>
<text class="v" x="354.73" y="247.16">−0.02</text>
<text class="v" x="380.19" y="247.16">0.03</text>
<text class="v" x="405.65" y="247.16">0.2</text>
<text class="v" x="431.11" y="247.16">0.02</text>
<text class="v" x="456.57" y="247.16">−0.07</text>
<text class="v" x="354.73" y="265.59">2.27</text>
<text class="v" x="380.19" y="265.59">0.41</text>
<text class="v" x="405.65" y="265.59">3.93</text>
<text class="v" x="431.11" y="265.59">0.77</text>
<text class="v" x="456.57" y="265.59">−0.15</text>
<text class="v" x="354.73" y="284.03">5.41</text>
<text class="v" x="380.19" y="284.03">0.92</text>
<text class="v" x="405.65" y="284.03">6.2</text>
<text class="v" x="431.11" y="284.03">5.16</text>
<text class="v" x="456.57" y="284.03">0.55</text>
<text class="v" x="354.73" y="302.47">2.95</text>
<text class="v" x="380.19" y="302.47">−0.35</text>
<text class="v" x="405.65" y="302.47">3.74</text>
<text class="v" x="431.11" y="302.47">4.65</text>
<text class="v" x="456.57" y="302.47">0.57</text>
<text class="v" x="354.73" y="320.91">0.61</text>
<text class="v" x="380.19" y="320.91">0.33</text>
<text class="v" x="405.65" y="320.91">0.9</text>
<text class="v" x="431.11" y="320.91">2.67</text>
<text class="v" x="456.57" y="320.91">1.8</text>
<text class="v" x="354.73" y="339.34">4.5</text>
<text class="v" x="380.19" y="339.34">0.46</text>
<text class="v" x="405.65" y="339.34">4.91</text>
<text class="v" x="431.11" y="339.34">3.76</text>
<text class="v" x="456.57" y="339.34">1.1</text>
<text class="v" x="354.73" y="357.78">1.96</text>
<text class="v" x="380.19" y="357.78">0.19</text>
<text class="v" x="405.65" y="357.78">2.04</text>
<text class="v" x="431.11" y="357.78">2.37</text>
<text class="v" x="456.57" y="357.78">1.39</text>
<path class="ax" d="M339.70 214.90 V366.30 H471.30"/>
<line class="tk" x1="336.80" y1="226.12" x2="339.20" y2="226.12"/>
<line class="tk" x1="336.80" y1="244.56" x2="339.20" y2="244.56"/>
<line class="tk" x1="336.80" y1="262.99" x2="339.20" y2="262.99"/>
<line class="tk" x1="336.80" y1="281.43" x2="339.20" y2="281.43"/>
<line class="tk" x1="336.80" y1="299.87" x2="339.20" y2="299.87"/>
<line class="tk" x1="336.80" y1="318.31" x2="339.20" y2="318.31"/>
<line class="tk" x1="336.80" y1="336.74" x2="339.20" y2="336.74"/>
<line class="tk" x1="336.80" y1="355.18" x2="339.20" y2="355.18"/>
<line class="tk" x1="354.73" y1="366.80" x2="354.73" y2="369.30"/>
<text class="xt" x="354.73" y="377.00">pr</text>
<line class="tk" x1="380.19" y1="366.80" x2="380.19" y2="369.30"/>
<text class="xt" x="380.19" y="377.00">wind</text>
<line class="tk" x1="405.65" y1="366.80" x2="405.65" y2="369.30"/>
<text class="xt" x="405.65" y="377.00">rad</text>
<line class="tk" x1="431.11" y1="366.80" x2="431.11" y2="369.30"/>
<text class="xt" x="431.11" y="377.00">max</text>
<line class="tk" x1="456.57" y1="366.80" x2="456.57" y2="369.30"/>
<text class="xt" x="456.57" y="377.00">min</text>
</g>
<text class="yl" transform="translate(13.7 290.6) rotate(-90)">Regions</text>
<text class="rl" transform="translate(495.5 293.6) rotate(-90) scale(0.89 1)">%IncMSE – SSP245</text>
<g>
<text class="ti" x="45.9" y="398.9">ANN</text>
<rect x="48.00" y="408.90" width="27.04" height="18.69" fill="#FCBCA3"/>
<rect x="74.74" y="408.90" width="27.04" height="18.69" fill="#FCA98C"/>
<rect x="101.48" y="408.90" width="27.04" height="18.69" fill="#FDD7C6"/>
<rect x="128.22" y="408.90" width="27.04" height="18.69" fill="#FEE0D2"/>
<rect x="154.96" y="408.90" width="26.74" height="18.69" fill="#FCB499"/>
<rect x="48.00" y="427.29" width="27.04" height="18.69" fill="#FCC0A7"/>
<rect x="74.74" y="427.29" width="27.04" height="18.69" fill="#FCA98C"/>
<rect x="101.48" y="427.29" width="27.04" height="18.69" fill="#FCBCA2"/>
<rect x="128.22" y="427.29" width="27.04" height="18.69" fill="#FDC6AF"/>
<rect x="154.96" y="427.29" width="26.74" height="18.69" fill="#FCB297"/>
<rect x="48.00" y="445.67" width="27.04" height="18.69" fill="#F0F1F7"/>
<rect x="74.74" y="445.67" width="27.04" height="18.69" fill="#FED7C7"/>
<rect x="101.48" y="445.67" width="27.04" height="18.69" fill="#EBEFF9"/>
<rect x="128.22" y="445.67" width="27.04" height="18.69" fill="#FBEAE2"/>
<rect x="154.96" y="445.67" width="26.74" height="18.69" fill="#FCBBA1"/>
<rect x="48.00" y="464.06" width="27.04" height="18.69" fill="#E9EFFA"/>
<rect x="74.74" y="464.06" width="27.04" height="18.69" fill="#FBE9E1"/>
<rect x="101.48" y="464.06" width="27.04" height="18.69" fill="#EFF1F7"/>
<rect x="128.22" y="464.06" width="27.04" height="18.69" fill="#F6F1EF"/>
<rect x="154.96" y="464.06" width="26.74" height="18.69" fill="#FCB99F"/>
<rect x="48.00" y="482.45" width="27.04" height="18.69" fill="#FDD3C1"/>
<rect x="74.74" y="482.45" width="27.04" height="18.69" fill="#FDC4AD"/>
<rect x="101.48" y="482.45" width="27.04" height="18.69" fill="#FDD5C3"/>
<rect x="128.22" y="482.45" width="27.04" height="18.69" fill="#FCE6DD"/>
<rect x="154.96" y="482.45" width="26.74" height="18.69" fill="#FCC3AB"/>
<rect x="48.00" y="500.84" width="27.04" height="18.69" fill="#FCBFA6"/>
<rect x="74.74" y="500.84" width="27.04" height="18.69" fill="#FCAE92"/>
<rect x="101.48" y="500.84" width="27.04" height="18.69" fill="#FCC4AC"/>
<rect x="128.22" y="500.84" width="27.04" height="18.69" fill="#FDCCB8"/>
<rect x="154.96" y="500.84" width="26.74" height="18.69" fill="#FCBAA0"/>
<rect x="48.00" y="519.23" width="27.04" height="18.69" fill="#FCBFA7"/>
<rect x="74.74" y="519.23" width="27.04" height="18.69" fill="#FCB89E"/>
<rect x="101.48" y="519.23" width="27.04" height="18.69" fill="#FCBDA3"/>
<rect x="128.22" y="519.23" width="27.04" height="18.69" fill="#FDD3C1"/>
<rect x="154.96" y="519.23" width="26.74" height="18.69" fill="#FCBDA4"/>
<rect x="48.00" y="537.61" width="27.04" height="18.39" fill="#FCBDA3"/>
<rect x="74.74" y="537.61" width="27.04" height="18.39" fill="#FCA78A"/>
<rect x="101.48" y="537.61" width="27.04" height="18.39" fill="#FCB79C"/>
<rect x="128.22" y="537.61" width="27.04" height="18.39" fill="#FEDFD1"/>
<rect x="154.96" y="537.61" width="26.74" height="18.39" fill="#FDD0BC"/>
<text class="v" x="61.37" y="420.69">0.38</text>
<text class="v" x="88.11" y="420.69">−0.07</text>
<text class="v" x="114.85" y="420.69">1.06</text>
<text class="v" x="141.59" y="420.69">1.31</text>
<text class="v" x="168.33" y="420.69">0.19</text>
<text class="v" x="61.37" y="439.08">0.47</text>
<text class="v" x="88.11" y="439.08">−0.07</text>
<text class="v" x="114.85" y="439.08">0.37</text>
<text class="v" x="141.59" y="439.08">0.62</text>
<text class="v" x="168.33" y="439.08">0.15</text>
<text class="v" x="61.37" y="457.47">3.36</text>
<text class="v" x="88.11" y="457.47">1.08</text>
<text class="v" x="114.85" y="457.47">3.99</text>
<text class="v" x="141.59" y="457.47">1.87</text>
<text class="v" x="168.33" y="457.47">0.35</text>
<text class="v" x="61.37" y="475.86">4.26</text>
<text class="v" x="88.11" y="475.86">1.83</text>
<text class="v" x="114.85" y="475.86">3.4</text>
<text class="v" x="141.59" y="475.86">2.67</text>
<text class="v" x="168.33" y="475.86">0.31</text>
<text class="v" x="61.37" y="494.24">0.97</text>
<text class="v" x="88.11" y="494.24">0.59</text>
<text class="v" x="114.85" y="494.24">1.01</text>
<text class="v" x="141.59" y="494.24">1.68</text>
<text class="v" x="168.33" y="494.24">0.55</text>
<text class="v" x="61.37" y="512.63">0.45</text>
<text class="v" x="88.11" y="512.63">0.04</text>
<text class="v" x="114.85" y="512.63">0.57</text>
<text class="v" x="141.59" y="512.63">0.79</text>
<text class="v" x="168.33" y="512.63">0.33</text>
<text class="v" x="61.37" y="531.02">0.46</text>
<text class="v" x="88.11" y="531.02">0.28</text>
<text class="v" x="114.85" y="531.02">0.39</text>
<text class="v" x="141.59" y="531.02">0.97</text>
<text class="v" x="168.33" y="531.02">0.4</text>
<text class="v" x="61.37" y="549.41">0.39</text>
<text class="v" x="88.11" y="549.41">−0.12</text>
<text class="v" x="114.85" y="549.41">0.25</text>
<text class="v" x="141.59" y="549.41">1.28</text>
<text class="v" x="168.33" y="549.41">0.88</text>
<path class="ax" d="M45.70 406.90 V557.90 H183.70"/>
<line class="tk" x1="42.80" y1="418.09" x2="45.20" y2="418.09"/>
<text class="yt" x="41.30" y="420.99">MN</text>
<line class="tk" x1="42.80" y1="436.48" x2="45.20" y2="436.48"/>
<text class="yt" x="41.30" y="439.38">WT</text>
<line class="tk" x1="42.80" y1="454.87" x2="45.20" y2="454.87"/>
<text class="yt" x="41.30" y="457.77">EC</text>
<line class="tk" x1="42.80" y1="473.26" x2="45.20" y2="473.26"/>
<text class="yt" x="41.30" y="476.16">CS</text>
<line class="tk" x1="42.80" y1="491.64" x2="45.20" y2="491.64"/>
<text class="yt" x="41.30" y="494.54">MB</text>
<line class="tk" x1="42.80" y1="510.03" x2="45.20" y2="510.03"/>
<text class="yt" x="41.30" y="512.93">SS</text>
<line class="tk" x1="42.80" y1="528.42" x2="45.20" y2="528.42"/>
<text class="yt" x="41.30" y="531.32">SSWF</text>
<line class="tk" x1="42.80" y1="546.81" x2="45.20" y2="546.81"/>
<text class="yt" x="41.30" y="549.71">R</text>
<line class="tk" x1="61.37" y1="558.40" x2="61.37" y2="560.90"/>
<text class="xt" x="61.37" y="568.60">pr</text>
<line class="tk" x1="88.11" y1="558.40" x2="88.11" y2="560.90"/>
<text class="xt" x="88.11" y="568.60">wind</text>
<line class="tk" x1="114.85" y1="558.40" x2="114.85" y2="560.90"/>
<text class="xt" x="114.85" y="568.60">rad</text>
<line class="tk" x1="141.59" y1="558.40" x2="141.59" y2="560.90"/>
<text class="xt" x="141.59" y="568.60">max</text>
<line class="tk" x1="168.33" y1="558.40" x2="168.33" y2="560.90"/>
<text class="xt" x="168.33" y="568.60">min</text>
</g>
<g>
<text class="ti" x="196.0" y="398.9">DJF</text>
<rect x="198.10" y="408.90" width="25.82" height="18.69" fill="#E9EFFA"/>
<rect x="223.62" y="408.90" width="25.82" height="18.69" fill="#F8EDE9"/>
<rect x="249.14" y="408.90" width="25.82" height="18.69" fill="#B2D2E8"/>
<rect x="274.66" y="408.90" width="25.82" height="18.69" fill="#F4F2F2"/>
<rect x="300.18" y="408.90" width="25.52" height="18.69" fill="#FEDCCC"/>
<rect x="198.10" y="427.29" width="25.82" height="18.69" fill="#FCBBA1"/>
<rect x="223.62" y="427.29" width="25.82" height="18.69" fill="#FCB499"/>
<rect x="249.14" y="427.29" width="25.82" height="18.69" fill="#FCE7DE"/>
<rect x="274.66" y="427.29" width="25.82" height="18.69" fill="#FDCDB8"/>
<rect x="300.18" y="427.29" width="25.52" height="18.69" fill="#FCE6DB"/>
<rect x="198.10" y="445.67" width="25.82" height="18.69" fill="#F0F2F6"/>
<rect x="223.62" y="445.67" width="25.82" height="18.69" fill="#FC8767"/>
<rect x="249.14" y="445.67" width="25.82" height="18.69" fill="#C5DBEF"/>
<rect x="274.66" y="445.67" width="25.82" height="18.69" fill="#EAEFF9"/>
<rect x="300.18" y="445.67" width="25.52" height="18.69" fill="#FCAE93"/>
<rect x="198.10" y="464.06" width="25.82" height="18.69" fill="#F4F2F2"/>
<rect x="223.62" y="464.06" width="25.82" height="18.69" fill="#FCE6DC"/>
<rect x="249.14" y="464.06" width="25.82" height="18.69" fill="#F5F2F1"/>
<rect x="274.66" y="464.06" width="25.82" height="18.69" fill="#EDF0F8"/>
<rect x="300.18" y="464.06" width="25.52" height="18.69" fill="#FCBBA1"/>
<rect x="198.10" y="482.45" width="25.82" height="18.69" fill="#FCB99F"/>
<rect x="223.62" y="482.45" width="25.82" height="18.69" fill="#FED9C8"/>
<rect x="249.14" y="482.45" width="25.82" height="18.69" fill="#F8EEE9"/>
<rect x="274.66" y="482.45" width="25.82" height="18.69" fill="#FCE5DB"/>
<rect x="300.18" y="482.45" width="25.52" height="18.69" fill="#FDD0BD"/>
<rect x="198.10" y="500.84" width="25.82" height="18.69" fill="#FCBBA1"/>
<rect x="223.62" y="500.84" width="25.82" height="18.69" fill="#FCA78A"/>
<rect x="249.14" y="500.84" width="25.82" height="18.69" fill="#FCBCA2"/>
<rect x="274.66" y="500.84" width="25.82" height="18.69" fill="#FDCDB8"/>
<rect x="300.18" y="500.84" width="25.52" height="18.69" fill="#FCA98D"/>
<rect x="198.10" y="519.23" width="25.82" height="18.69" fill="#FCB69C"/>
<rect x="223.62" y="519.23" width="25.82" height="18.69" fill="#FCB398"/>
<rect x="249.14" y="519.23" width="25.82" height="18.69" fill="#FCB297"/>
<rect x="274.66" y="519.23" width="25.82" height="18.69" fill="#FDE2D5"/>
<rect x="300.18" y="519.23" width="25.52" height="18.69" fill="#FDC6AF"/>
<rect x="198.10" y="537.61" width="25.82" height="18.39" fill="#FDC6AF"/>
<rect x="223.62" y="537.61" width="25.82" height="18.39" fill="#FDC9B3"/>
<rect x="249.14" y="537.61" width="25.82" height="18.39" fill="#FCB59B"/>
<rect x="274.66" y="537.61" width="25.82" height="18.39" fill="#FBE9E2"/>
<rect x="300.18" y="537.61" width="25.52" height="18.39" fill="#FDD7C6"/>
<text class="v" x="210.86" y="420.69">4.27</text>
<text class="v" x="236.38" y="420.69">2.24</text>
<text class="v" x="261.90" y="420.69">5.78</text>
<text class="v" x="287.42" y="420.69">2.91</text>
<text class="v" x="312.94" y="420.69">1.19</text>
<text class="v" x="210.86" y="439.08">0.35</text>
<text class="v" x="236.38" y="439.08">0.18</text>
<text class="v" x="261.90" y="439.08">1.71</text>
<text class="v" x="287.42" y="439.08">0.8</text>
<text class="v" x="312.94" y="439.08">1.63</text>
<text class="v" x="210.86" y="457.47">3.27</text>
<text class="v" x="236.38" y="457.47">−0.85</text>
<text class="v" x="261.90" y="457.47">5.32</text>
<text class="v" x="287.42" y="457.47">4.1</text>
<text class="v" x="312.94" y="457.47">0.06</text>
<text class="v" x="210.86" y="475.86">2.86</text>
<text class="v" x="236.38" y="475.86">1.65</text>
<text class="v" x="261.90" y="475.86">2.81</text>
<text class="v" x="287.42" y="475.86">3.67</text>
<text class="v" x="312.94" y="475.86">0.34</text>
<text class="v" x="210.86" y="494.24">0.3</text>
<text class="v" x="236.38" y="494.24">1.11</text>
<text class="v" x="261.90" y="494.24">2.25</text>
<text class="v" x="287.42" y="494.24">1.62</text>
<text class="v" x="312.94" y="494.24">0.89</text>
<text class="v" x="210.86" y="512.63">0.35</text>
<text class="v" x="236.38" y="512.63">−0.11</text>
<text class="v" x="261.90" y="512.63">0.37</text>
<text class="v" x="287.42" y="512.63">0.8</text>
<text class="v" x="312.94" y="512.63">−0.06</text>
<text class="v" x="210.86" y="531.02">0.24</text>
<text class="v" x="236.38" y="531.02">0.16</text>
<text class="v" x="261.90" y="531.02">0.14</text>
<text class="v" x="287.42" y="531.02">1.41</text>
<text class="v" x="312.94" y="531.02">0.63</text>
<text class="v" x="210.86" y="549.41">0.62</text>
<text class="v" x="236.38" y="549.41">0.7</text>
<text class="v" x="261.90" y="549.41">0.22</text>
<text class="v" x="287.42" y="549.41">1.85</text>
<text class="v" x="312.94" y="549.41">1.06</text>
<path class="ax" d="M195.80 406.90 V557.90 H327.70"/>
<line class="tk" x1="192.90" y1="418.09" x2="195.30" y2="418.09"/>
<line class="tk" x1="192.90" y1="436.48" x2="195.30" y2="436.48"/>
<line class="tk" x1="192.90" y1="454.87" x2="195.30" y2="454.87"/>
<line class="tk" x1="192.90" y1="473.26" x2="195.30" y2="473.26"/>
<line class="tk" x1="192.90" y1="491.64" x2="195.30" y2="491.64"/>
<line class="tk" x1="192.90" y1="510.03" x2="195.30" y2="510.03"/>
<line class="tk" x1="192.90" y1="528.42" x2="195.30" y2="528.42"/>
<line class="tk" x1="192.90" y1="546.81" x2="195.30" y2="546.81"/>
<line class="tk" x1="210.86" y1="558.40" x2="210.86" y2="560.90"/>
<text class="xt" x="210.86" y="568.60">pr</text>
<line class="tk" x1="236.38" y1="558.40" x2="236.38" y2="560.90"/>
<text class="xt" x="236.38" y="568.60">wind</text>
<line class="tk" x1="261.90" y1="558.40" x2="261.90" y2="560.90"/>
<text class="xt" x="261.90" y="568.60">rad</text>
<line class="tk" x1="287.42" y1="558.40" x2="287.42" y2="560.90"/>
<text class="xt" x="287.42" y="568.60">max</text>
<line class="tk" x1="312.94" y1="558.40" x2="312.94" y2="560.90"/>
<text class="xt" x="312.94" y="568.60">min</text>
</g>
<g>
<text class="ti" x="339.9" y="398.9">JJA</text>
<rect x="342.00" y="408.90" width="25.76" height="18.69" fill="#FCBEA5"/>
<rect x="367.46" y="408.90" width="25.76" height="18.69" fill="#FCC0A8"/>
<rect x="392.92" y="408.90" width="25.76" height="18.69" fill="#FCB398"/>
<rect x="418.38" y="408.90" width="25.76" height="18.69" fill="#FDC7B2"/>
<rect x="443.84" y="408.90" width="25.46" height="18.69" fill="#FCC4AC"/>
<rect x="342.00" y="427.29" width="25.76" height="18.69" fill="#FCAC90"/>
<rect x="367.46" y="427.29" width="25.76" height="18.69" fill="#FCA78A"/>
<rect x="392.92" y="427.29" width="25.76" height="18.69" fill="#FCA98C"/>
<rect x="418.38" y="427.29" width="25.76" height="18.69" fill="#FCB196"/>
<rect x="443.84" y="427.29" width="25.46" height="18.69" fill="#FCBBA1"/>
<rect x="342.00" y="445.67" width="25.76" height="18.69" fill="#F7F0ED"/>
<rect x="367.46" y="445.67" width="25.76" height="18.69" fill="#FC8060"/>
<rect x="392.92" y="445.67" width="25.76" height="18.69" fill="#F8EEEA"/>
<rect x="418.38" y="445.67" width="25.76" height="18.69" fill="#EFF1F7"/>
<rect x="443.84" y="445.67" width="25.46" height="18.69" fill="#FCC3AC"/>
<rect x="342.00" y="464.06" width="25.76" height="18.69" fill="#A7CEE4"/>
<rect x="367.46" y="464.06" width="25.76" height="18.69" fill="#F5523B"/>
<rect x="392.92" y="464.06" width="25.76" height="18.69" fill="#B4D3E9"/>
<rect x="418.38" y="464.06" width="25.76" height="18.69" fill="#73B2D8"/>
<rect x="443.84" y="464.06" width="25.46" height="18.69" fill="#FDC8B3"/>
<rect x="342.00" y="482.45" width="25.76" height="18.69" fill="#F3F2F4"/>
<rect x="367.46" y="482.45" width="25.76" height="18.69" fill="#FB7D5D"/>
<rect x="392.92" y="482.45" width="25.76" height="18.69" fill="#FEDACA"/>
<rect x="418.38" y="482.45" width="25.76" height="18.69" fill="#EDF0F8"/>
<rect x="443.84" y="482.45" width="25.46" height="18.69" fill="#FBEAE3"/>
<rect x="342.00" y="500.84" width="25.76" height="18.69" fill="#FCAE92"/>
<rect x="367.46" y="500.84" width="25.76" height="18.69" fill="#FC8161"/>
<rect x="392.92" y="500.84" width="25.76" height="18.69" fill="#FCBFA6"/>
<rect x="418.38" y="500.84" width="25.76" height="18.69" fill="#E8EFFA"/>
<rect x="443.84" y="500.84" width="25.46" height="18.69" fill="#F1F2F6"/>
<rect x="342.00" y="519.23" width="25.76" height="18.69" fill="#FBE9E1"/>
<rect x="367.46" y="519.23" width="25.76" height="18.69" fill="#FCB69B"/>
<rect x="392.92" y="519.23" width="25.76" height="18.69" fill="#FCE8E0"/>
<rect x="418.38" y="519.23" width="25.76" height="18.69" fill="#F7F0ED"/>
<rect x="443.84" y="519.23" width="25.46" height="18.69" fill="#FDD4C1"/>
<rect x="342.00" y="537.61" width="25.76" height="18.39" fill="#FDCBB6"/>
<rect x="367.46" y="537.61" width="25.76" height="18.39" fill="#FCAF93"/>
<rect x="392.92" y="537.61" width="25.76" height="18.39" fill="#FCC1A9"/>
<rect x="418.38" y="537.61" width="25.76" height="18.39" fill="#FBEAE2"/>
<rect x="443.84" y="537.61" width="25.46" height="18.39" fill="#FDD4C2"/>
<text class="v" x="354.73" y="420.69">0.42</text>
<text class="v" x="380.19" y="420.69">0.49</text>
<text class="v" x="405.65" y="420.69">0.17</text>
<text class="v" x="431.11" y="420.69">0.67</text>
<text class="v" x="456.57" y="420.69">0.57</text>
<text class="v" x="354.73" y="439.08">0.01</text>
<text class="v" x="380.19" y="439.08">−0.12</text>
<text class="v" x="405.65" y="439.08">−0.07</text>
<text class="v" x="431.11" y="439.08">0.12</text>
<text class="v" x="456.57" y="439.08">0.34</text>
<text class="v" x="354.73" y="457.47">2.51</text>
<text class="v" x="380.19" y="457.47">−1.03</text>
<text class="v" x="405.65" y="457.47">2.29</text>
<text class="v" x="431.11" y="457.47">3.42</text>
<text class="v" x="456.57" y="457.47">0.56</text>
<text class="v" x="354.73" y="475.86">6.04</text>
<text class="v" x="380.19" y="475.86">−2.04</text>
<text class="v" x="405.65" y="475.86">5.72</text>
<text class="v" x="431.11" y="475.86">7.06</text>
<text class="v" x="456.57" y="475.86">0.69</text>
<text class="v" x="354.73" y="494.24">3.03</text>
<text class="v" x="380.19" y="494.24">−1.1</text>
<text class="v" x="405.65" y="494.24">1.14</text>
<text class="v" x="431.11" y="494.24">3.65</text>
<text class="v" x="456.57" y="494.24">1.91</text>
<text class="v" x="354.73" y="512.63">0.04</text>
<text class="v" x="380.19" y="512.63">−1</text>
<text class="v" x="405.65" y="512.63">0.45</text>
<text class="v" x="431.11" y="512.63">4.32</text>
<text class="v" x="456.57" y="512.63">3.19</text>
<text class="v" x="354.73" y="531.02">1.84</text>
<text class="v" x="380.19" y="531.02">0.23</text>
<text class="v" x="405.65" y="531.02">1.79</text>
<text class="v" x="431.11" y="531.02">2.54</text>
<text class="v" x="456.57" y="531.02">0.98</text>
<text class="v" x="354.73" y="549.41">0.76</text>
<text class="v" x="380.19" y="549.41">0.07</text>
<text class="v" x="405.65" y="549.41">0.51</text>
<text class="v" x="431.11" y="549.41">1.87</text>
<text class="v" x="456.57" y="549.41">0.99</text>
<path class="ax" d="M339.70 406.90 V557.90 H471.30"/>
<line class="tk" x1="336.80" y1="418.09" x2="339.20" y2="418.09"/>
<line class="tk" x1="336.80" y1="436.48" x2="339.20" y2="436.48"/>
<line class="tk" x1="336.80" y1="454.87" x2="339.20" y2="454.87"/>
<line class="tk" x1="336.80" y1="473.26" x2="339.20" y2="473.26"/>
<line class="tk" x1="336.80" y1="491.64" x2="339.20" y2="491.64"/>
<line class="tk" x1="336.80" y1="510.03" x2="339.20" y2="510.03"/>
<line class="tk" x1="336.80" y1="528.42" x2="339.20" y2="528.42"/>
<line class="tk" x1="336.80" y1="546.81" x2="339.20" y2="546.81"/>
<line class="tk" x1="354.73" y1="558.40" x2="354.73" y2="560.90"/>
<text class="xt" x="354.73" y="568.60">pr</text>
<line class="tk" x1="380.19" y1="558.40" x2="380.19" y2="560.90"/>
<text class="xt" x="380.19" y="568.60">wind</text>
<line class="tk" x1="405.65" y1="558.40" x2="405.65" y2="560.90"/>
<text class="xt" x="405.65" y="568.60">rad</text>
<line class="tk" x1="431.11" y1="558.40" x2="431.11" y2="560.90"/>
<text class="xt" x="431.11" y="568.60">max</text>
<line class="tk" x1="456.57" y1="558.40" x2="456.57" y2="560.90"/>
<text class="xt" x="456.57" y="568.60">min</text>
</g>
<text class="yl" transform="translate(13.7 482.4) rotate(-90)">Regions</text>
<text class="rl" transform="translate(495.5 486.8) rotate(-90) scale(0.89 1)">%IncMSE – SSP370</text>
<rect x="56.0" y="583.9" width="116.8" height="7.1" fill="url(#cb)"/>
<line x1="56.62" y1="583.9" x2="56.62" y2="585.4" stroke="#fff" stroke-opacity="0.6" stroke-width="0.7"/>
<line x1="56.62" y1="589.5" x2="56.62" y2="591.0" stroke="#fff" stroke-opacity="0.6" stroke-width="0.7"/>
<text class="lg" x="56.62" y="602.8">−3.0</text>
<line x1="83.35" y1="583.9" x2="83.35" y2="585.4" stroke="#fff" stroke-opacity="0.6" stroke-width="0.7"/>
<line x1="83.35" y1="589.5" x2="83.35" y2="591.0" stroke="#fff" stroke-opacity="0.6" stroke-width="0.7"/>
<text class="lg" x="83.35" y="602.8">0.0</text>
<line x1="110.08" y1="583.9" x2="110.08" y2="585.4" stroke="#fff" stroke-opacity="0.6" stroke-width="0.7"/>
<line x1="110.08" y1="589.5" x2="110.08" y2="591.0" stroke="#fff" stroke-opacity="0.6" stroke-width="0.7"/>
<text class="lg" x="110.08" y="602.8">3.0</text>
<line x1="136.81" y1="583.9" x2="136.81" y2="585.4" stroke="#fff" stroke-opacity="0.6" stroke-width="0.7"/>
<line x1="136.81" y1="589.5" x2="136.81" y2="591.0" stroke="#fff" stroke-opacity="0.6" stroke-width="0.7"/>
<text class="lg" x="136.81" y="602.8">6.0</text>
<line x1="163.53" y1="583.9" x2="163.53" y2="585.4" stroke="#fff" stroke-opacity="0.6" stroke-width="0.7"/>
<line x1="163.53" y1="589.5" x2="163.53" y2="591.0" stroke="#fff" stroke-opacity="0.6" stroke-width="0.7"/>
<text class="lg" x="163.53" y="602.8">9.0</text>
<rect x="203.0" y="583.9" width="117.2" height="7.1" fill="url(#cb)"/>
<line x1="203.63" y1="583.9" x2="203.63" y2="585.4" stroke="#fff" stroke-opacity="0.6" stroke-width="0.7"/>
<line x1="203.63" y1="589.5" x2="203.63" y2="591.0" stroke="#fff" stroke-opacity="0.6" stroke-width="0.7"/>
<text class="lg" x="203.63" y="602.8">−3.0</text>
<line x1="230.45" y1="583.9" x2="230.45" y2="585.4" stroke="#fff" stroke-opacity="0.6" stroke-width="0.7"/>
<line x1="230.45" y1="589.5" x2="230.45" y2="591.0" stroke="#fff" stroke-opacity="0.6" stroke-width="0.7"/>
<text class="lg" x="230.45" y="602.8">0.0</text>
<line x1="257.26" y1="583.9" x2="257.26" y2="585.4" stroke="#fff" stroke-opacity="0.6" stroke-width="0.7"/>
<line x1="257.26" y1="589.5" x2="257.26" y2="591.0" stroke="#fff" stroke-opacity="0.6" stroke-width="0.7"/>
<text class="lg" x="257.26" y="602.8">3.0</text>
<line x1="284.08" y1="583.9" x2="284.08" y2="585.4" stroke="#fff" stroke-opacity="0.6" stroke-width="0.7"/>
<line x1="284.08" y1="589.5" x2="284.08" y2="591.0" stroke="#fff" stroke-opacity="0.6" stroke-width="0.7"/>
<text class="lg" x="284.08" y="602.8">6.0</text>
<line x1="310.90" y1="583.9" x2="310.90" y2="585.4" stroke="#fff" stroke-opacity="0.6" stroke-width="0.7"/>
<line x1="310.90" y1="589.5" x2="310.90" y2="591.0" stroke="#fff" stroke-opacity="0.6" stroke-width="0.7"/>
<text class="lg" x="310.90" y="602.8">9.0</text>
<rect x="347.0" y="583.9" width="117.4" height="7.1" fill="url(#cb)"/>
<line x1="347.63" y1="583.9" x2="347.63" y2="585.4" stroke="#fff" stroke-opacity="0.6" stroke-width="0.7"/>
<line x1="347.63" y1="589.5" x2="347.63" y2="591.0" stroke="#fff" stroke-opacity="0.6" stroke-width="0.7"/>
<text class="lg" x="347.63" y="602.8">−3.0</text>
<line x1="374.49" y1="583.9" x2="374.49" y2="585.4" stroke="#fff" stroke-opacity="0.6" stroke-width="0.7"/>
<line x1="374.49" y1="589.5" x2="374.49" y2="591.0" stroke="#fff" stroke-opacity="0.6" stroke-width="0.7"/>
<text class="lg" x="374.49" y="602.8">0.0</text>
<line x1="401.36" y1="583.9" x2="401.36" y2="585.4" stroke="#fff" stroke-opacity="0.6" stroke-width="0.7"/>
<line x1="401.36" y1="589.5" x2="401.36" y2="591.0" stroke="#fff" stroke-opacity="0.6" stroke-width="0.7"/>
<text class="lg" x="401.36" y="602.8">3.0</text>
<line x1="428.22" y1="583.9" x2="428.22" y2="585.4" stroke="#fff" stroke-opacity="0.6" stroke-width="0.7"/>
<line x1="428.22" y1="589.5" x2="428.22" y2="591.0" stroke="#fff" stroke-opacity="0.6" stroke-width="0.7"/>
<text class="lg" x="428.22" y="602.8">6.0</text>
<line x1="455.09" y1="583.9" x2="455.09" y2="585.4" stroke="#fff" stroke-opacity="0.6" stroke-width="0.7"/>
<line x1="455.09" y1="589.5" x2="455.09" y2="591.0" stroke="#fff" stroke-opacity="0.6" stroke-width="0.7"/>
<text class="lg" x="455.09" y="602.8">9.0</text>
<text class="xl" x="270.1" y="620.8">PET Predictor</text>
</svg>
</body>
</html>
